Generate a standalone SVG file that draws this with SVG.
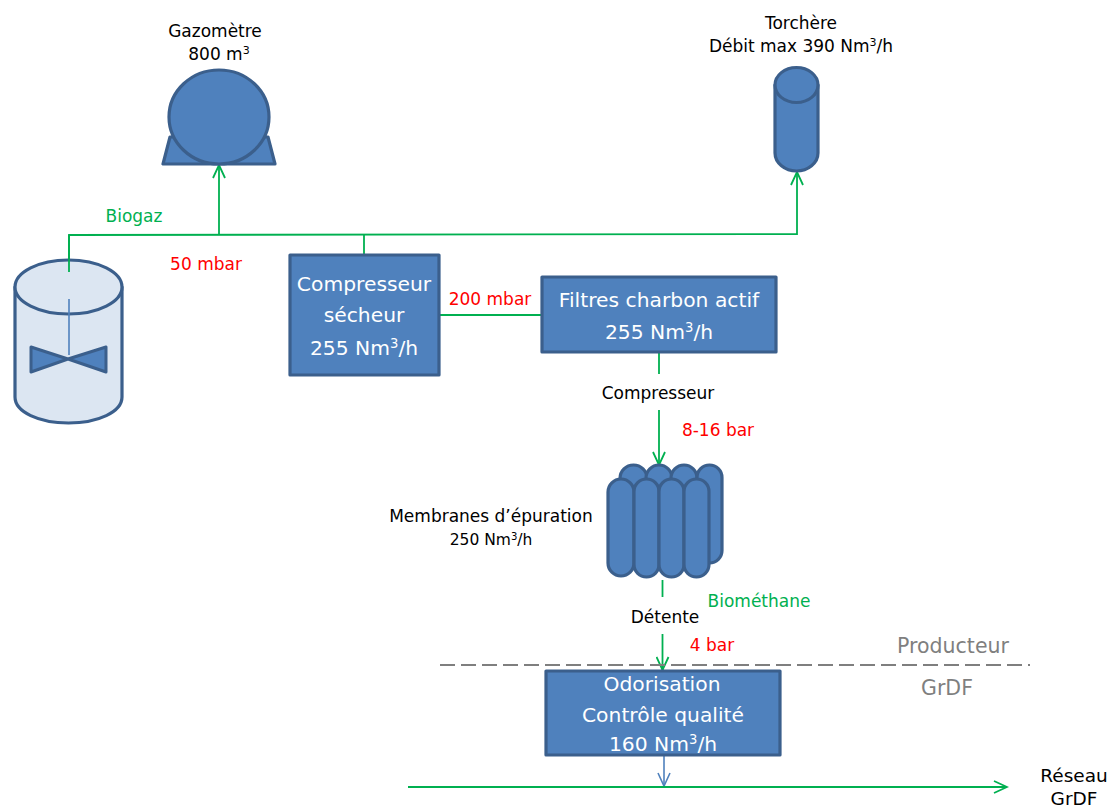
<svg xmlns="http://www.w3.org/2000/svg" width="1110" height="807" viewBox="0 0 1110 807">
<defs>
<marker id="ag" markerUnits="userSpaceOnUse" markerWidth="16" markerHeight="14" refX="14" refY="7" orient="auto"><path d="M1 1 L14 7 L1 13" fill="none" stroke="#00b050" stroke-width="1.8"/></marker>
<marker id="ab" markerUnits="userSpaceOnUse" markerWidth="16" markerHeight="14" refX="14" refY="7" orient="auto"><path d="M1 1 L14 7 L1 13" fill="none" stroke="#4f81bd" stroke-width="1.6"/></marker>
</defs>
<style>
text{font-family:"DejaVu Sans",sans-serif;font-size:17px;fill:#000;text-anchor:middle}
.s{stroke:#3b5f8c;stroke-width:3.200;fill:#4f81bd;stroke-linejoin:round}
.l{stroke:#3b5f8c;stroke-width:3.200;fill:#dce6f2;stroke-linejoin:round}
.g{fill:none;stroke:#00b050;stroke-width:1.800}
.b{fill:none;stroke:#4f81bd;stroke-width:1.600}
.w{fill:#fff;font-size:20.300px}
.r{fill:#f00}
.gt{fill:#00b050}
.gy{fill:#7f7f7f;font-size:20.500px}
.sup{font-size:.65em}
</style>
<rect width="1110" height="807" fill="#fff"/>
<g id="connectors">
<path class="g" d="M69 272V235L797 234V172" marker-end="url(#ag)"/>
<path class="g" d="M219 235V165" marker-end="url(#ag)"/>
<path class="g" d="M364 235V255"/>
<path class="g" d="M439 315H542"/>
<path class="g" d="M659 352V374"/>
<path class="g" d="M659 410V465" marker-end="url(#ag)"/>
<path class="g" d="M662.500 580V597"/>
<path class="g" d="M662.500 634V670" marker-end="url(#ag)"/>
<path class="b" d="M664 755V786" marker-end="url(#ab)"/>
<path class="g" d="M408 787H1007" marker-end="url(#ag)"/>
<path d="M440 665H1030" fill="none" stroke="#7f7f7f" stroke-width="1.800" stroke-dasharray="15 6"/>
</g>
<g id="digester">
<path class="l" d="M15 287V397C15 412 39 423 68.500 423S122 412 122 397V287Z"/>
<ellipse class="l" cx="68.500" cy="287" rx="53.500" ry="27"/>
<path d="M69 299V355" class="b"/>
<path class="s" d="M31 347L68 359L106 347V372L68 359L31 372Z" style="stroke-width:3"/>
<path class="g" d="M69 235V272"/>
</g>
<g id="gazometre">
<path class="s" d="M170 137L163 164H275L268 137Z"/>
<ellipse class="s" cx="219" cy="117" rx="50" ry="47"/>
<text x="215" y="37">Gazomètre</text>
<text x="219" y="60">800 m<tspan class="sup" dy="-6">3</tspan></text>
</g>
<g id="torchere">
<path class="s" d="M775 85V153C775 163 785 171 796.500 171S818 163 818 153V85Z"/>
<ellipse class="s" cx="796.500" cy="85" rx="21.500" ry="17.500"/>
<text x="801" y="29">Torchère</text>
<text x="801" y="52">Débit max 390 Nm<tspan class="sup" dy="-6">3</tspan><tspan dy="6">/h</tspan></text>
</g>
<g id="compresseur-secheur">
<rect class="s" x="290" y="255" width="149" height="120"/>
<text class="w" x="364" y="291">Compresseur</text>
<text class="w" x="364" y="322">sécheur</text>
<text class="w" x="364" y="355">255 Nm<tspan class="sup" dy="-7">3</tspan><tspan dy="7">/h</tspan></text>
</g>
<g id="filtres">
<rect class="s" x="542" y="277" width="234" height="75"/>
<text class="w" x="659" y="307">Filtres charbon actif</text>
<text class="w" x="659" y="339">255 Nm<tspan class="sup" dy="-7">3</tspan><tspan dy="7">/h</tspan></text>
</g>
<g id="membranes">
<rect class="s" x="620" y="465" width="27" height="98" rx="13.500"/>
<rect class="s" x="646" y="465" width="26" height="98" rx="13"/>
<rect class="s" x="671" y="465" width="26" height="98" rx="13"/>
<rect class="s" x="697" y="465" width="25" height="98" rx="12.500"/>
<rect class="s" x="608" y="479" width="26" height="97" rx="13"/>
<rect class="s" x="634" y="479" width="25" height="98" rx="12.500"/>
<rect class="s" x="659" y="479" width="25" height="98" rx="12.500"/>
<rect class="s" x="684" y="479" width="25" height="98" rx="12.500"/>
<text x="491" y="522">Membranes d’épuration</text>
<text x="491" y="545" style="font-size:15.500px">250 Nm<tspan class="sup" dy="-5">3</tspan><tspan dy="5">/h</tspan></text>
</g>
<g id="odorisation">
<rect class="s" x="546" y="671" width="234" height="84"/>
<text class="w" x="662" y="691">Odorisation</text>
<text class="w" x="663" y="722">Contrôle qualité</text>
<text class="w" x="663" y="751">160 Nm<tspan class="sup" dy="-7">3</tspan><tspan dy="7">/h</tspan></text>
</g>
<g id="labels">
<text class="gt" x="134" y="222">Biogaz</text>
<text class="r" x="206" y="270">50 mbar</text>
<text class="r" x="490" y="305">200 mbar</text>
<text x="658" y="399">Compresseur</text>
<text class="r" x="718" y="436">8-16 bar</text>
<text class="gt" x="759" y="607">Biométhane</text>
<text x="665" y="623">Détente</text>
<text class="r" x="712" y="651">4 bar</text>
<text class="gy" x="953" y="653">Producteur</text>
<text class="gy" x="947" y="695">GrDF</text>
<text x="1074" y="782" style="font-size:18.500px">Réseau</text>
<text x="1074" y="805" style="font-size:18.500px">GrDF</text>
</g>
</svg>
